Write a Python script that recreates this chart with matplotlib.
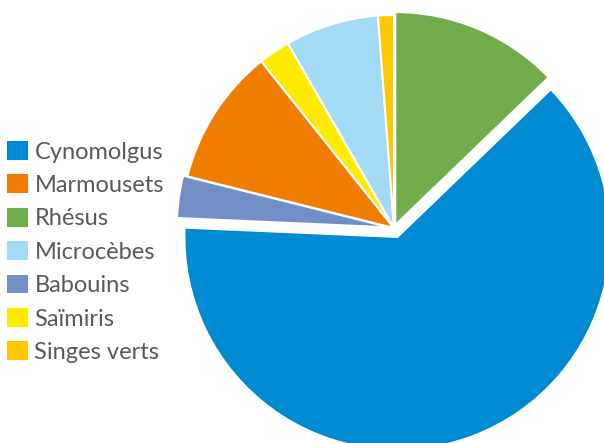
import matplotlib.pyplot as plt
from matplotlib.patches import Patch

# slices in drawing order, clockwise from 12 o'clock
species = ["Rhésus", "Cynomolgus", "Babouins", "Marmousets", "Saïmiris", "Microcèbes", "Singes verts"]
shares = [12.8, 62.9, 3.2, 10.4, 2.4, 7.1, 1.2]
colors = ["#72AD4B", "#008AD2", "#728FC8", "#F07D00", "#FFEB00", "#A3DAF5", "#FFC800"]
explode = [0.015, 0.045, 0.02, 0, 0, 0, 0]

# legend order
legend_order = ["Cynomolgus", "Marmousets", "Rhésus", "Microcèbes", "Babouins", "Saïmiris", "Singes verts"]

fig = plt.figure(figsize=(6.04, 4.43), dpi=100)
ax = fig.add_axes([0, 0, 1, 1])

ax.pie(shares, colors=colors, startangle=90, counterclock=False, explode=explode,
       radius=1, wedgeprops=dict(edgecolor="white", linewidth=1.5))

# radius = 213 px, centre at (394, 228) px from top-left
r = 213.0
ax.set_xlim(-394 / r, (604 - 394) / r)
ax.set_ylim(-(443 - 228) / r, 228 / r)
ax.set_aspect("equal")
ax.axis("off")

col = dict(zip(species, colors))
handles = [Patch(facecolor=col[s], edgecolor="none") for s in legend_order]
leg = fig.legend(handles, legend_order, loc="center left", bbox_to_anchor=(0.012, 0.431),
                 frameon=False, borderpad=0, borderaxespad=0, handlelength=0.9, handleheight=0.85,
                 handletextpad=0.25, labelspacing=0.5, prop=dict(family="Lato", size=17))
for t in leg.get_texts():
    t.set_color("#595959")

fig.savefig("out.png", dpi=100)
